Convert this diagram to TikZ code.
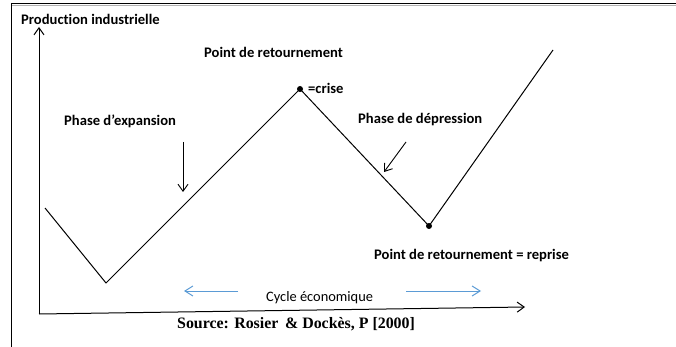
\documentclass[tikz,border=0pt]{standalone}
\usepackage{fontspec}
\setmainfont[Ligatures={NoCommon}]{Carlito}
\newfontfamily\srcfont{Liberation Serif}
\usetikzlibrary{arrows.meta}
\definecolor{cycblue}{RGB}{91,155,213}
\tikzset{
  lbl/.style={font=\bfseries\fontsize{14.6}{17}\selectfont, inner sep=0pt, anchor=west},
  curve/.style={line width=1pt, black},
  axis/.style={line width=1pt, -{Straight Barb[length=7pt,width=10pt]}},
  ptr/.style={line width=0.9pt, -{Straight Barb[length=7pt,width=10pt]}},
  bluearr/.style={line width=1pt, cycblue, -{Straight Barb[length=8pt,width=10pt]}},
  dot/.style={circle, fill=black, inner sep=0pt, minimum size=6pt}
}
\begin{document}
\begin{tikzpicture}[x=1pt,y=-1pt]
\useasboundingbox (0,0) rectangle (676,347);
% frame
\draw[line width=1.4pt] (11,3.5) -- (676,3.5);
\draw[gray!60, line width=0.6pt] (11,5) -- (676,5);
\draw[line width=1pt] (11,3) -- (11,347);
% axes
\coordinate (O) at (39,314);
\coordinate (Ytip) at (39,27);
\coordinate (Xtip) at (525,307);
\draw[axis] (O) -- (Ytip);
\draw[axis] (O) -- (Xtip);
% curve
\coordinate (s) at (45,208);
\coordinate (m1) at (106,283);
\node[dot] (peak) at (300,89) {};
\node[dot] (trough) at (429,226) {};
\coordinate (e) at (553,50);
\draw[curve] (s) -- (m1) -- (peak.center) -- (trough.center) -- (e);
% labels
\node[lbl] (prod) at (21,19) {Production industrielle};
\node[lbl] (pr1) at (204,52) {Point de retournement};
\node[lbl] (crise) at (308,88) {=crise};
\node[lbl] (exp) at (64,121) {Phase d’expansion};
\node[lbl] (dep) at (358,120) {Phase de dépression};
\node[lbl] (pr2) at (374,256) {Point de retournement = reprise};
\node[inner sep=0pt, anchor=west, font=\fontsize{14.4}{17}\selectfont] (cyc) at (266,298) {Cycle économique};
\node[inner sep=0pt, anchor=west, font=\srcfont\bfseries\fontsize{15.9}{18}\selectfont] (src) at (177,324) {Source: Rosier\, \& Dockès, P [2000]};
% pointer arrows
\coordinate (a1s) at (183,142);
\coordinate (a1e) at (183,192);
\draw[ptr] (a1s) -- (a1e);
\coordinate (a2s) at (406,142);
\coordinate (a2e) at (384,172);
\draw[ptr] (a2s) -- (a2e);
% blue arrows
\coordinate (b1s) at (238,291);
\coordinate (b1e) at (184,291);
\draw[bluearr] (b1s) -- (b1e);
\coordinate (b2s) at (406,291);
\coordinate (b2e) at (481,291);
\draw[bluearr] (b2s) -- (b2e);
\end{tikzpicture}
\end{document}
